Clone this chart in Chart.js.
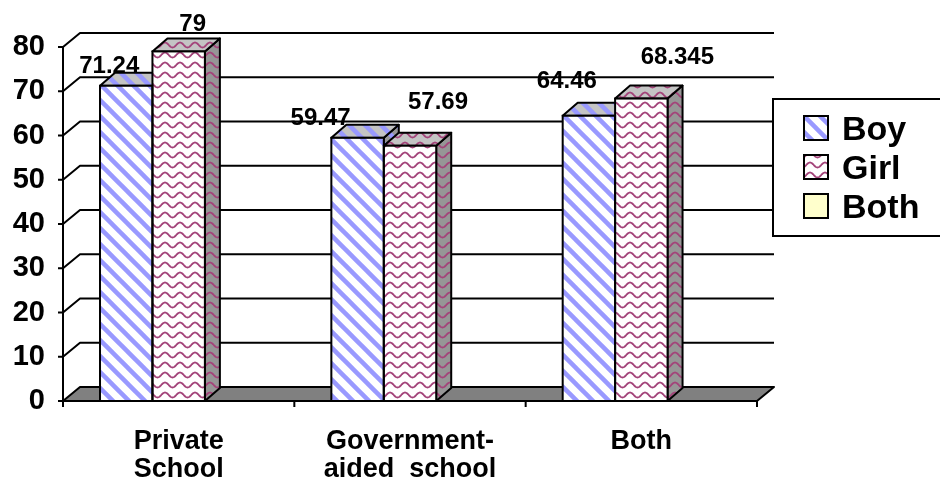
<!DOCTYPE html>
<html>
<head>
<meta charset="utf-8">
<script src="https://cdn.jsdelivr.net/npm/chart.js@4.4.0/dist/chart.umd.min.js"></script>
<style>
  html, body { margin: 0; padding: 0; background: #fff; }
  canvas { display: block; }
</style>
</head>
<body>
<canvas id="chart" width="940" height="491"></canvas>
<script>
// data
const categories = [['Private', 'School'], ['Government-', 'aided  school'], 'Both'];
const seriesNames = ['Boy', 'Girl', 'Both'];
const boyValues = [71.24, 59.47, 64.46];
const girlValues = [79, 57.69, 68.345];
const bothValues = [null, null, null];
const yMin = 0;
const yMax = 80;
const yStep = 10;

// look
const FONT = "'Liberation Sans', Arial, sans-serif";
const DEPTH = { dx: 15, dy: -13 };      // bar depth
const FLOOR = { dx: 17, dy: -14 };      // floor / back wall depth
// where excel put each value label, relative to the bar top centre
const labelShift = [
  [[-17, -13], [-37, -13], [-22, -28]],
  [[14, -20], [28, -37], [36, -35]]
];

const canvas = document.getElementById('chart');
const ctx = canvas.getContext('2d');

function stripes(bg) {
  const s = 16;
  const c = document.createElement('canvas');
  c.width = s; c.height = s;
  const g = c.getContext('2d');
  g.fillStyle = bg;
  g.fillRect(0, 0, s, s);
  g.strokeStyle = '#9999ff';
  g.lineWidth = 4.5;
  for (const o of [-s, 0, s]) {
    g.beginPath();
    g.moveTo(o - 2, -2);
    g.lineTo(o + s + 2, s + 2);
    g.stroke();
  }
  return ctx.createPattern(c, 'repeat');
}

function waves(bg) {
  const w = 15, h = 10;
  const c = document.createElement('canvas');
  c.width = w; c.height = h;
  const g = c.getContext('2d');
  g.fillStyle = bg;
  g.fillRect(0, 0, w, h);
  g.strokeStyle = '#a3447a';
  g.lineWidth = 1.8;
  g.beginPath();
  for (let x = -1; x <= w + 1; x += 0.5) {
    const y = 5 - 2.5 * Math.cos(2 * Math.PI * x / w);
    if (x === -1) g.moveTo(x, y); else g.lineTo(x, y);
  }
  g.stroke();
  return ctx.createPattern(c, 'repeat');
}

const fills = {
  front: [stripes('#ffffff'), waves('#ffffff')],
  top: [stripes('#c4c4c4'), waves('#c4c4c4')],
  side: [stripes('#969696'), waves('#969696')]
};

function poly(c, pts, fill) {
  c.beginPath();
  c.moveTo(pts[0][0], pts[0][1]);
  for (let i = 1; i < pts.length; i++) c.lineTo(pts[i][0], pts[i][1]);
  c.closePath();
  c.fillStyle = fill;
  c.fill();
  c.stroke();
}

// walls, floor, axes and the top / side faces of the bars
const threeD = {
  id: 'threeD',
  beforeDatasetsDraw(chart) {
    const c = chart.ctx;
    const a = chart.chartArea;
    const y = chart.scales.y;
    c.save();
    c.strokeStyle = '#000';
    c.lineWidth = 2;
    c.lineJoin = 'round';

    // back wall grid lines
    for (let v = yMin + yStep; v <= yMax; v += yStep) {
      const py = y.getPixelForValue(v);
      c.beginPath();
      c.moveTo(a.left, py);
      c.lineTo(a.left + FLOOR.dx, py + FLOOR.dy);
      c.lineTo(a.right + FLOOR.dx, py + FLOOR.dy);
      c.stroke();
    }

    // floor
    poly(c, [[a.left, a.bottom], [a.right, a.bottom],
             [a.right + FLOOR.dx, a.bottom + FLOOR.dy], [a.left + FLOOR.dx, a.bottom + FLOOR.dy]], '#808080');

    // front value axis and ticks
    c.beginPath();
    c.moveTo(a.left, y.getPixelForValue(yMax));
    c.lineTo(a.left, a.bottom);
    for (let v = yMin; v <= yMax; v += yStep) {
      const py = y.getPixelForValue(v);
      c.moveTo(a.left - 5, py);
      c.lineTo(a.left, py);
    }
    // category ticks
    const n = chart.data.labels.length;
    for (let i = 0; i <= n; i++) {
      const px = a.left + (a.right - a.left) * i / n;
      c.moveTo(px, a.bottom);
      c.lineTo(px, a.bottom + 6);
    }
    c.stroke();

    // bar tops and sides, left to right
    for (let i = 0; i < n; i++) {
      for (let d = 0; d < 2; d++) {
        const bar = chart.getDatasetMeta(d).data[i];
        if (!bar || bar.y == null || isNaN(bar.y)) continue;
        const L = bar.x - bar.width / 2, R = bar.x + bar.width / 2, T = bar.y, B = bar.base;
        poly(c, [[R, T], [R + DEPTH.dx, T + DEPTH.dy], [R + DEPTH.dx, B + DEPTH.dy], [R, B]], fills.side[d]);
        poly(c, [[L, T], [R, T], [R + DEPTH.dx, T + DEPTH.dy], [L + DEPTH.dx, T + DEPTH.dy]], fills.top[d]);
      }
    }
    c.restore();
  },
  afterDatasetsDraw(chart) {
    const c = chart.ctx;
    c.save();
    c.strokeStyle = '#000';
    c.lineWidth = 2;
    c.fillStyle = '#000';
    c.font = 'bold 24px ' + FONT;
    c.textAlign = 'center';
    c.textBaseline = 'alphabetic';
    for (let d = 0; d < 2; d++) {
      const meta = chart.getDatasetMeta(d);
      meta.data.forEach((bar, i) => {
        const v = chart.data.datasets[d].data[i];
        if (v == null) return;
        const L = bar.x - bar.width / 2;
        c.strokeRect(L, bar.y, bar.width, bar.base - bar.y);
      });
    }
    for (let d = 0; d < 2; d++) {
      const meta = chart.getDatasetMeta(d);
      meta.data.forEach((bar, i) => {
        const v = chart.data.datasets[d].data[i];
        if (v == null) return;
        const s = labelShift[d][i];
        c.fillText(String(v), bar.x + s[0], bar.y + s[1]);
      });
    }
    c.restore();
  },
  afterDraw(chart) {
    // legend box, partly off the right edge as in the picture
    const c = chart.ctx;
    c.save();
    c.strokeStyle = '#000';
    c.lineWidth = 2;
    c.strokeRect(773, 99, 200, 137);
    c.font = 'bold 34px ' + FONT;
    c.textBaseline = 'alphabetic';
    chart.data.datasets.forEach((ds, i) => {
      const top = 116 + i * 39;
      c.fillStyle = ds.backgroundColor;
      c.fillRect(804, top, 24, 24);
      c.strokeRect(804, top, 24, 24);
      c.fillStyle = '#000';
      c.fillText(ds.label, 842, top + 24);
    });
    c.restore();
  }
};

new Chart(ctx, {
  type: 'bar',
  data: {
    labels: categories,
    datasets: [
      { label: seriesNames[0], data: boyValues, backgroundColor: fills.front[0], borderWidth: 0 },
      { label: seriesNames[1], data: girlValues, backgroundColor: fills.front[1], borderWidth: 0 },
      { label: seriesNames[2], data: bothValues, backgroundColor: '#ffffcc', borderWidth: 0 }
    ]
  },
  options: {
    responsive: false,
    animation: false,
    layout: { padding: { top: 47, right: 183, left: 0, bottom: 0 } },
    datasets: { bar: { categoryPercentage: 0.68, barPercentage: 1 } },
    plugins: {
      legend: { display: false },
      tooltip: { enabled: false }
    },
    scales: {
      x: {
        grid: { display: false },
        border: { display: false },
        ticks: {
          color: '#000',
          font: { family: FONT, size: 27, weight: 'bold', lineHeight: 1.02 },
          padding: 19,
          maxRotation: 0,
          autoSkip: false
        },
        afterFit(scale) { scale.height = 90; }
      },
      y: {
        min: yMin,
        max: yMax,
        grid: { display: false },
        border: { display: false },
        ticks: {
          stepSize: yStep,
          color: '#000',
          font: { family: FONT, size: 29, weight: 'bold' },
          padding: 10
        },
        afterFit(scale) { scale.width = 63; }
      }
    }
  },
  plugins: [threeD]
});
</script>
</body>
</html>
